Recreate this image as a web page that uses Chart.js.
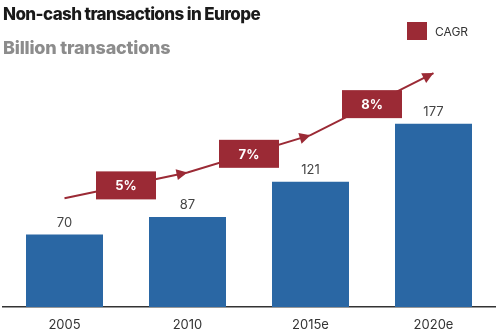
<!DOCTYPE html>
<html>
<head>
<meta charset="utf-8">
<script src="https://cdn.jsdelivr.net/npm/chart.js@4.4.0/dist/chart.umd.min.js"></script>
<style>
  html, body { margin: 0; padding: 0; background: #fff; }
  #wrap { position: relative; width: 498px; height: 336px; font-family: 'Inter', sans-serif; }
  #title { position: absolute; left: 3px; top: 4px; font-size: 17px; font-weight: 800; color: #1a1a1a; letter-spacing: -0.6px; }
  #sub { position: absolute; left: 3px; top: 37px; font-size: 18px; font-weight: 800; color: #8c8c8c; letter-spacing: -0.2px; }
  #legend { position: absolute; left: 407px; top: 22px; display: flex; align-items: center; font-size: 12px; color: #333; }
  #legend span.sw { width: 20px; height: 18px; background: #9b2a35; margin-right: 8px; display: inline-block; }
  canvas { position: absolute; left: 0; top: 0; }
</style>
</head>
<body>
<div id="wrap">
  <canvas id="c" width="498" height="336"></canvas>
  <div id="title">Non-cash transactions in Europe</div>
  <div id="sub">Billion transactions</div>
  <div id="legend"><span class="sw"></span>CAGR</div>
</div>
<script>
// ── DATA ───────────────────────────────────────
const years      = ['2005', '2010', '2015e', '2020e'];
const volumes    = [70, 87, 121, 177];
const cagrLabels = ['5%', '7%', '8%'];
// height of the CAGR arrow at each year (in billion-transaction units)
const arrowLevels = [105, 130, 166, 226];

const BLUE = '#2a67a4';
const RED  = '#9b2a35';

// ── PLUGIN: value labels, arrowheads, CAGR boxes ──
const extras = {
  id: 'extras',
  afterDatasetsDraw(chart) {
    const ctx = chart.ctx;
    const bars = chart.getDatasetMeta(0).data;
    const pts  = chart.getDatasetMeta(1).data;

    // values above bars
    ctx.save();
    ctx.fillStyle = '#444';
    ctx.font = '13px Inter, sans-serif';
    ctx.textAlign = 'center';
    ctx.textBaseline = 'bottom';
    bars.forEach((b, i) => ctx.fillText(volumes[i], b.x, b.y - 5));

    // arrowheads at end of each segment
    ctx.fillStyle = RED;
    for (let i = 1; i < pts.length; i++) {
      const a = pts[i - 1], p = pts[i];
      const ang = Math.atan2(p.y - a.y, p.x - a.x);
      ctx.save();
      ctx.translate(p.x, p.y);
      ctx.rotate(ang);
      ctx.beginPath();
      ctx.moveTo(0, 0);
      ctx.lineTo(-11, -5.5);
      ctx.lineTo(-11, 5.5);
      ctx.closePath();
      ctx.fill();
      ctx.restore();
    }

    // CAGR boxes at segment midpoints
    ctx.font = 'bold 13px Inter, sans-serif';
    ctx.textBaseline = 'middle';
    cagrLabels.forEach((t, i) => {
      const mx = (pts[i].x + pts[i + 1].x) / 2;
      const my = (pts[i].y + pts[i + 1].y) / 2;
      ctx.fillStyle = RED;
      ctx.fillRect(mx - 30, my - 14, 60, 28);
      ctx.fillStyle = '#fff';
      ctx.fillText(t, mx, my + 1);
    });
    ctx.restore();
  }
};

new Chart(document.getElementById('c'), {
  type: 'bar',
  data: {
    labels: years,
    datasets: [
      {
        data: volumes,
        backgroundColor: BLUE,
        barPercentage: 0.626,
        categoryPercentage: 1,
        order: 2
      },
      {
        type: 'line',
        data: arrowLevels,
        borderColor: RED,
        borderWidth: 2,
        pointRadius: 0,
        tension: 0,
        clip: false,
        order: 1
      }
    ]
  },
  options: {
    responsive: false,
    animation: false,
    layout: { padding: { left: 3, right: 3, top: 100, bottom: 0 } },
    plugins: { legend: { display: false }, tooltip: { enabled: false } },
    scales: {
      x: {
        grid: { display: false, drawTicks: false, tickLength: 0 },
        border: { display: true, color: '#333', width: 1.5 },
        ticks: { color: '#333', font: { size: 13, family: 'Inter' }, padding: 10 },
        afterFit: (s) => { s.height = 29; }
      },
      y: { display: false, min: 0, max: 200 }
    }
  },
  plugins: [extras]
});
</script>
</body>
</html>
